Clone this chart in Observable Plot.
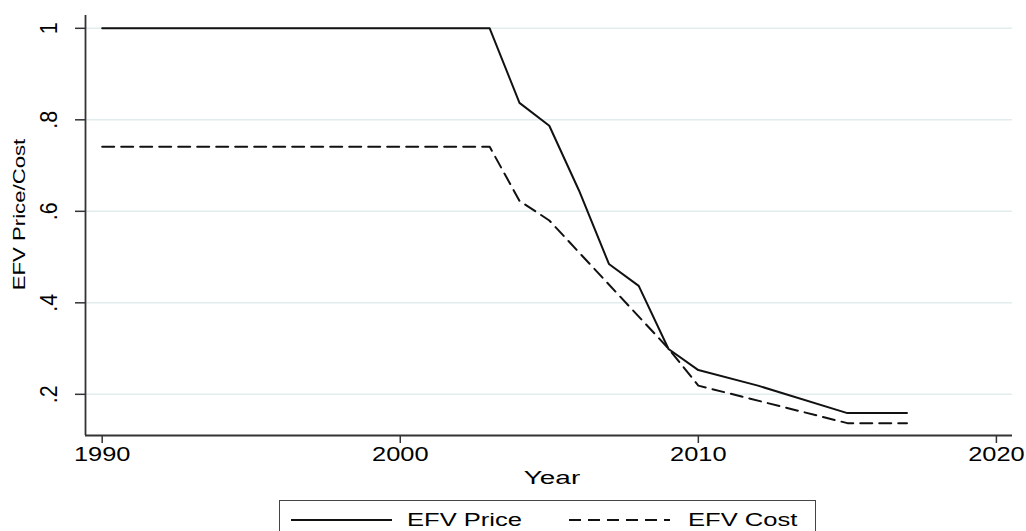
<!DOCTYPE html>
<html>
<head>
<meta charset="utf-8">
<script src="https://cdn.jsdelivr.net/npm/d3@7"></script>
<script src="https://cdn.jsdelivr.net/npm/@observablehq/plot@0.6"></script>
<style>
  html, body { margin: 0; padding: 0; background: #fff; }
  #wrap { position: relative; width: 1026px; height: 531px; overflow: hidden; background: #fff;
          font-family: "Liberation Sans", Arial, sans-serif; }
  #chart svg { display: block; }
  #legend { position: absolute; left: 279px; top: 500px; width: 537px; height: 44px;
            border: 1px solid #444; box-sizing: border-box; background: #fff; }
  #legend .sw { position: absolute; }
  #legend .lab { position: absolute; font-size: 18px; line-height: 18px; color: #000;
                 white-space: nowrap; transform: scaleX(1.42); transform-origin: 0 50%; }
</style>
</head>
<body>
<div id="wrap">
  <div id="chart"></div>
  <div id="legend"></div>
</div>
<script>
// ---- data ----
const priceYears  = [1990, 2003, 2004, 2005, 2006, 2007, 2008, 2009, 2010, 2012, 2015, 2017];
const priceValues = [1.0, 1.0, 0.837, 0.787, 0.645, 0.485, 0.437, 0.299, 0.253, 0.219, 0.159, 0.159];
const costYears   = [1990, 2003, 2004, 2005, 2009, 2010, 2015, 2017];
const costValues  = [0.741, 0.741, 0.623, 0.580, 0.300, 0.219, 0.137, 0.137];
const seriesNames = ["EFV Price", "EFV Cost"];
const xTicks = [1990, 2000, 2010, 2020];
const yTicks = [0.2, 0.4, 0.6, 0.8, 1];
const xTitle = "Year";
const yTitle = "EFV Price/Cost";

const xDomain = [1989.44, 2020.54];
const yDomain = [0.11, 1.028];

const price = priceYears.map((d, i) => ({year: d, value: priceValues[i]}));
const cost  = costYears.map((d, i) => ({year: d, value: costValues[i]}));

const DASH = "12,7";
const LINE = "#111";
const AXIS = "#333";
const yFmt = d => String(d).replace(/^0(?=\.)/, "");

const plot = Plot.plot({
  width: 1026,
  height: 495,
  marginLeft: 85,
  marginRight: 14,
  marginTop: 15,
  marginBottom: 60,
  x: {domain: xDomain},
  y: {domain: yDomain},
  style: {fontFamily: '"Liberation Sans", Arial, sans-serif', background: "#fff", color: "#000"},
  marks: [
    Plot.gridY(yTicks, {stroke: "#e2ebee", strokeOpacity: 1, strokeWidth: 1.5}),
    Plot.ruleY([yDomain[0]], {stroke: AXIS, strokeWidth: 1.8}),
    Plot.ruleX([xDomain[0]], {stroke: AXIS, strokeWidth: 1.8}),
    Plot.axisX(xTicks, {tickSize: 8, tickPadding: 3, fontSize: 20.5, stroke: AXIS, strokeWidth: 1.5,
                        fill: "#000", tickFormat: d => String(d), label: null}),
    Plot.axisY(yTicks, {tickSize: 10, tickPadding: 19, tickRotate: -90, fontSize: 19.5, stroke: AXIS,
                        strokeWidth: 1.5, fill: "#000", tickFormat: yFmt, label: null}),
    Plot.text([xTitle], {frameAnchor: "bottom", dy: 43, dx: 3, fontSize: 18.6, fill: "#000",
                         textAnchor: "middle", lineAnchor: "middle"}),
    Plot.text([yTitle], {frameAnchor: "left", rotate: -90, dx: -66, dy: -11, fontSize: 16.3,
                         fill: "#000", textAnchor: "middle", lineAnchor: "middle"}),
    Plot.line(price, {x: "year", y: "value", stroke: LINE, strokeWidth: 2}),
    Plot.line(cost,  {x: "year", y: "value", stroke: LINE, strokeWidth: 2, strokeDasharray: DASH})
  ]
});
document.getElementById("chart").appendChild(plot);

// Stata's glyphs are wider than Arial's: stretch texts along their reading direction
function stretch(t, s, sy = 1) {
  let tr = t.getAttribute("transform");
  if (!tr) {
    const x = parseFloat(t.getAttribute("x") || 0), y = parseFloat(t.getAttribute("y") || 0);
    t.removeAttribute("x"); t.removeAttribute("y");
    tr = `translate(${x},${y})`;
  }
  t.setAttribute("transform", tr + ` scale(${s},${sy})`);
}
const xTickTexts = new Set(xTicks.map(String));
const yTickTexts = new Set(yTicks.map(yFmt));
plot.querySelectorAll("text").forEach(t => {
  const c = t.textContent;
  if (xTickTexts.has(c)) stretch(t, 1.24);
  else if (yTickTexts.has(c)) { t.setAttribute("font-size", 19.5); stretch(t, 1.1, 1.25); }
  else if (c === xTitle) stretch(t, 1.5);
  else if (c === yTitle) stretch(t, 1.36);
});

// legend
const legend = document.getElementById("legend");
const items = [
  {name: seriesNames[0], dash: null, sw: 10.5, tx: 127},
  {name: seriesNames[1], dash: DASH, sw: 289, tx: 407.5}
];
items.forEach(it => {
  const s = document.createElementNS("http://www.w3.org/2000/svg", "svg");
  s.setAttribute("class", "sw");
  s.setAttribute("width", 101); s.setAttribute("height", 6);
  s.style.left = it.sw + "px"; s.style.top = "15.7px";
  const l = document.createElementNS("http://www.w3.org/2000/svg", "line");
  l.setAttribute("x1", 0); l.setAttribute("x2", 101);
  l.setAttribute("y1", 3); l.setAttribute("y2", 3);
  l.setAttribute("stroke", LINE); l.setAttribute("stroke-width", 2);
  if (it.dash) l.setAttribute("stroke-dasharray", it.dash);
  s.appendChild(l);
  legend.appendChild(s);
  const sp = document.createElement("span");
  sp.className = "lab";
  sp.textContent = it.name;
  sp.style.left = it.tx + "px"; sp.style.top = "9.75px";
  legend.appendChild(sp);
});
</script>
</body>
</html>
